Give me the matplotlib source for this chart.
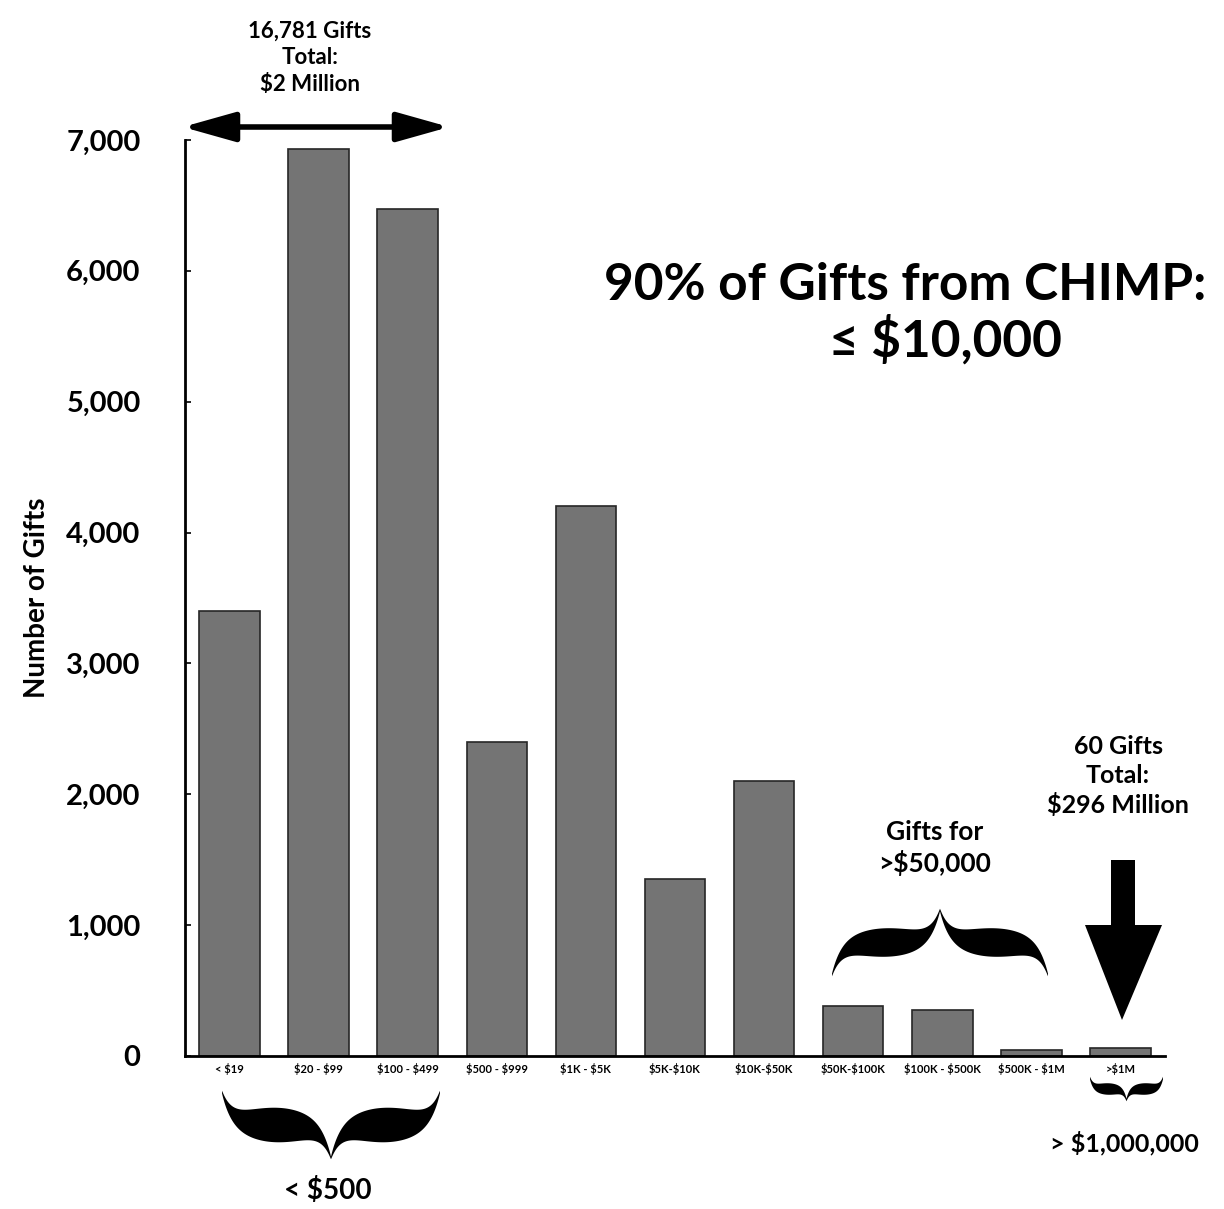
import numpy as np
import matplotlib
matplotlib.use("Agg")
import matplotlib.pyplot as plt
from matplotlib.patches import Polygon, FancyArrowPatch

plt.rcParams["font.family"] = ["Lato", "DejaVu Sans"]

categories = ["< $19", "$20 - $99", "$100 - $499", "$500 - $999", "$1K - $5K",
              "$5K-$10K", "$10K-$50K", "$50K-$100K", "$100K - $500K",
              "$500K - $1M", ">$1M"]
gifts = [3400, 6930, 6470, 2400, 4200, 1350, 2100, 380, 350, 45, 60]
yticks = [0, 1000, 2000, 3000, 4000, 5000, 6000, 7000]

W, H = 1224, 1209
fig = plt.figure(figsize=(W / 100, H / 100), dpi=100)
ax = fig.add_axes([185 / W, 1 - 1056 / H, 980 / W, (1056 - 140) / H])

x = np.arange(len(categories))
ax.bar(x, gifts, width=0.68, color="#747474", edgecolor="#262626", linewidth=1.2)
ax.set_xlim(-0.5, len(categories) - 0.5)
ax.set_ylim(0, 7000)
ax.set_yticks(yticks)
ax.set_yticklabels([f"{v:,}" for v in yticks], fontsize=21, fontweight="bold")
ax.set_xticks(x)
# escape $ so it is not read as mathtext
ax.set_xticklabels([c.replace("$", r"\$") for c in categories],
                   fontsize=8, fontweight="bold")
ax.tick_params(axis="y", direction="in", length=4, width=1.2, pad=32)
ax.tick_params(axis="x", length=0, pad=5)
for s in ["top", "right"]:
    ax.spines[s].set_visible(False)
ax.spines["left"].set_linewidth(2)
ax.spines["bottom"].set_linewidth(2)
ax.set_ylabel("Number of Gifts", fontsize=20, fontweight="bold", labelpad=12)

# overlay in pixel coordinates for annotations
ov = fig.add_axes([0, 0, 1, 1], zorder=5)
ov.set_xlim(0, W)
ov.set_ylim(H, 0)
ov.axis("off")
ov.patch.set_alpha(0)


def brace(x0, x1, y_end, y_tip, thick):
    # curly brace; ends at y_end, middle tip at y_tip
    t = np.linspace(0, 1, 200)
    a = 0.09
    s = 0.5 * (1 - np.exp(-t / a)) + 0.5 * np.exp(-(1 - t) / a)
    w = thick * np.sin(np.pi * t) ** 0.8 + 2.5
    xm = (x0 + x1) / 2
    xl = x0 + (xm - x0) * t
    yc = y_end + (y_tip - y_end) * s
    xr = x1 - (x1 - xm) * t
    top = np.concatenate([xl, xr[::-1]])
    yc_all = np.concatenate([yc, yc[::-1]])
    w_all = np.concatenate([w, w[::-1]])
    pts_up = np.column_stack([top, yc_all - w_all / 2])
    pts_dn = np.column_stack([top[::-1], (yc_all + w_all / 2)[::-1]])
    ov.add_patch(Polygon(np.vstack([pts_up, pts_dn]), closed=True,
                         color="black", lw=0))


# top double arrow
ov.add_patch(FancyArrowPatch((180, 127), (452, 127),
                             arrowstyle="<|-|>,head_length=1.6,head_width=0.45",
                             mutation_scale=20, lw=4, color="black"))
ov.text(310, 58, "16,781 Gifts\nTotal:\n$2 Million", ha="center", va="center",
        fontsize=16, fontweight="bold", linespacing=1.35)

ov.text(905, 285, "90% of Gifts from CHIMP:", ha="center", va="center",
        fontsize=37, fontweight="bold")
ov.text(945, 340, "≤ $10,000", ha="center", va="center",
        fontsize=37, fontweight="bold")

ov.text(935, 848, "Gifts for\n>$50,000", ha="center", va="center",
        fontsize=19, fontweight="bold", linespacing=1.3)
brace(832, 1048, 975, 910, 26)

ov.text(1118, 776, "60 Gifts\nTotal:\n$296 Million", ha="center", va="center",
        fontsize=18, fontweight="bold", linespacing=1.3)
ov.add_patch(Polygon([(1111, 860), (1135, 860), (1135, 925), (1162, 925),
                      (1122, 1020), (1085, 925), (1111, 925)],
                     closed=True, color="black", lw=0))

brace(222, 440, 1092, 1158, 32)
ov.text(328, 1190, "< $500", ha="center", va="center",
        fontsize=20, fontweight="bold")

brace(1090, 1163, 1078, 1100, 9)
ov.text(1124, 1143, "> $1,000,000", ha="center", va="center",
        fontsize=18, fontweight="bold")

fig.savefig("out.png", dpi=100, facecolor="white")
